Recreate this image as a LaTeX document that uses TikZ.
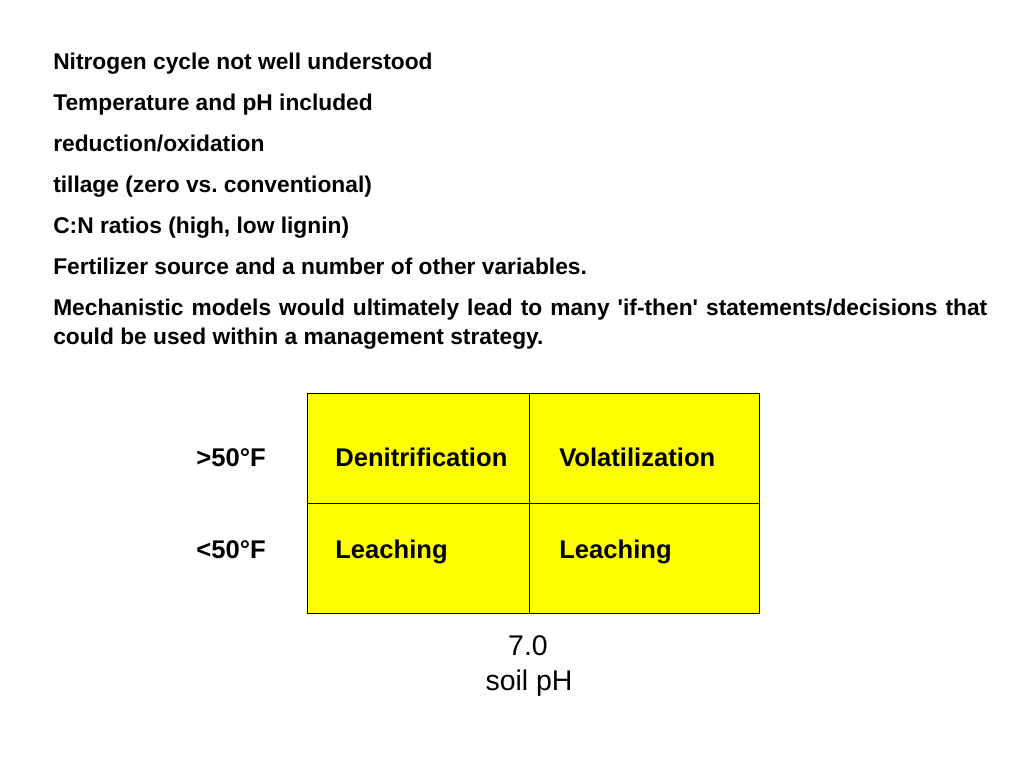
\documentclass[tikz,border=0pt]{standalone}
\usepackage{fontspec}
\setmainfont{Liberation Sans}
\definecolor{cellyellow}{RGB}{255,255,0}
\frenchspacing
\begin{document}
\begin{tikzpicture}[x=0.703125pt,y=-0.703125pt,
	point/.style={anchor=base west,inner sep=0pt,font=\fontsize{16}{19.7}\selectfont\bfseries},
	cell/.style={draw=black,fill=cellyellow,line width=0.8pt,inner sep=0pt,anchor=north west,minimum height=77.3pt},
	entry/.style={anchor=base west,inner sep=0pt,font=\fontsize{18}{22}\selectfont\bfseries},
	temp/.style={anchor=base east,inner sep=0pt,font=\fontsize{18}{22}\selectfont\bfseries},
	axis/.style={anchor=base,inner sep=0pt,font=\fontsize{20}{24}\selectfont}]
	\useasboundingbox (0,0) rectangle (1024,768);
	\node[point] (p1) at (53,70) {Nitrogen cycle not well understood};
	\node[point] (p2) at (53,111) {Temperature and pH included};
	\node[point] (p3) at (53,152) {reduction/oxidation};
	\node[point] (p4) at (53,193) {tillage (zero vs. conventional)};
	\node[point] (p5) at (53,234) {C:N ratios (high, low lignin)};
	\node[point] (p6) at (53,275) {Fertilizer source and a number of other variables.};
	\node[point,text width=656.7pt,align=justify] (p7) at (53,316) {Mechanistic models would ultimately lead to many \textquotesingle if-then\textquotesingle{} statements/decisions that could be used within a management strategy.};
	% the 2x2 table
	\node[cell,minimum width=156.1pt] (c11) at (307,393) {};
	\node[cell,minimum width=161.7pt] (c12) at (529,393) {};
	\node[cell,minimum width=156.1pt] (c21) at (307,503) {};
	\node[cell,minimum width=161.7pt] (c22) at (529,503) {};
	\node[entry] (denit) at (335,466) {Denitrification};
	\node[entry] (volat) at (559,466) {Volatilization};
	\node[entry] (leach1) at (335,558) {Leaching};
	\node[entry] (leach2) at (559,558) {Leaching};
	\node[temp] (warm) at (266,466) {>50°F};
	\node[temp] (cold) at (266,558) {<50°F};
	\node[axis] (ph) at (528,655) {7.0};
	\node[axis] (soil) at (529,690) {soil pH};
\end{tikzpicture}
\end{document}
